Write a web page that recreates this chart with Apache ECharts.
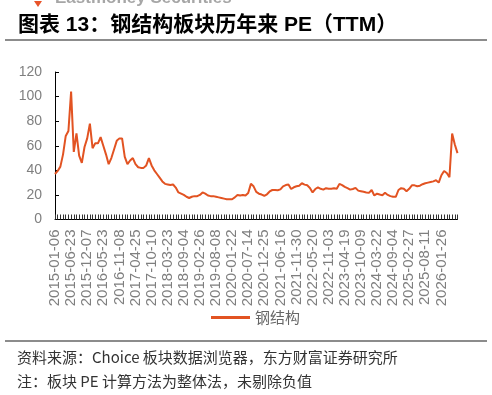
<!DOCTYPE html>
<html>
<head>
<meta charset="utf-8">
<script src="https://cdn.jsdelivr.net/npm/echarts@6/dist/echarts.min.js"></script>
<style>
  body { margin: 0; background: #ffffff; }
  #chart { width: 492px; height: 395px; }
</style>
</head>
<body>
<div id="chart"></div>
<script>
// x轴刻度标签（每6个数据点显示一个）
var tickLabels = [
  '2015-01-06', '2015-06-23', '2015-12-07', '2016-05-23', '2016-11-08',
  '2017-04-25', '2017-10-10', '2018-03-23', '2018-09-04', '2019-02-26',
  '2019-08-08', '2020-01-22', '2020-07-14', '2020-12-25', '2021-06-16',
  '2021-11-30', '2022-05-20', '2022-11-03', '2023-04-19', '2023-10-09',
  '2024-03-22', '2024-09-04', '2025-02-27', '2025-08-11', '2026-01-26'
]
var labelStep = 6

// 钢结构 PE(TTM)
var peValues = [
  37, 39.5, 43, 53, 68, 72,
  104, 55, 70, 52, 46, 59,
  66, 78, 58, 62, 62, 67,
  60, 53, 45, 50, 57, 64,
  66, 66, 51, 45, 48, 50,
  45, 42.5, 42, 42, 44, 50,
  44, 40, 37, 34, 31, 29,
  28.5, 28, 28.5, 26, 22, 21,
  20, 18.5, 17.5, 18.5, 19, 19,
  20, 22, 21, 19.5, 19, 19,
  18.5, 18, 17.5, 17, 16.5, 16.5,
  16.5, 18, 20, 19.5, 20, 19.5,
  21.5, 29, 27, 22.5, 21, 20.3,
  19.3, 20.5, 22.8, 24, 24, 23.8,
  24.5, 27, 28, 28.4, 24.8, 26.2,
  27, 27.5, 29.5, 28.4, 27.8, 25.7,
  22, 24.8, 26.2, 25, 24.3, 25.5,
  25, 25, 25.5, 25, 29, 28,
  26.5, 25.5, 24.3, 24.8, 25.7, 23.5,
  23, 22.5, 22, 21.7, 24, 19.5,
  21, 20.3, 19.7, 21.7, 20, 19,
  18.5, 18.5, 24, 25.5, 25, 23,
  25, 27.8, 27.8, 27, 27.5, 28.7,
  29.5, 30, 30.5, 31, 32, 30,
  36, 39.5, 37.8, 34.5, 70, 61,
  54
]

var categories = peValues.map(function (v, i) { return String(i) })

var lineColor = '#E25322'
var latinCjk = '"Liberation Sans", "Noto Sans CJK SC", sans-serif'

var myChart = echarts.init(document.getElementById('chart'))
var option = {
  backgroundColor: '#ffffff',
  animation: false,
  title: {
    text: '图表 13：钢结构板块历年来 PE（TTM）',
    left: 18,
    top: 15,
    padding: 0,
    textStyle: {
      fontFamily: latinCjk,
      fontSize: 21,
      fontWeight: 'bold',
      color: '#000000'
    }
  },
  graphic: [
    // 顶部被裁掉的logo
    {
      type: 'polygon',
      shape: { points: [[34, 1], [42, 1], [38, 7]] },
      style: { fill: '#E8542A' }
    },
    {
      type: 'text',
      style: {
        text: 'Eastmoney Securities',
        x: 55,
        y: 7,
        textAlign: 'left',
        textVerticalAlign: 'bottom',
        verticalAlign: 'bottom',
        font: 'bold 17px "Liberation Sans"',
        fill: '#a6a6a6'
      }
    },
    // 分隔线
    {
      type: 'line',
      shape: { x1: 5, y1: 40, x2: 487, y2: 40 },
      style: { stroke: '#8c8c8c', lineWidth: 2 }
    },
    {
      type: 'line',
      shape: { x1: 5, y1: 341, x2: 487, y2: 341 },
      style: { stroke: '#8c8c8c', lineWidth: 2 }
    },
    // 注释
    {
      type: 'text',
      style: {
        text: '资料来源：Choice 板块数据浏览器，东方财富证券研究所',
        x: 17,
        y: 357,
        textVerticalAlign: 'middle',
        verticalAlign: 'middle',
        font: '15px "Noto Sans CJK SC"',
        fill: '#333333'
      }
    },
    {
      type: 'text',
      style: {
        text: '注：板块 PE 计算方法为整体法，未剔除负值',
        x: 17,
        y: 381,
        textVerticalAlign: 'middle',
        verticalAlign: 'middle',
        font: '15px "Noto Sans CJK SC"',
        fill: '#333333'
      }
    }
  ],
  legend: {
    left: 211,
    top: 310,
    padding: 0,
    icon: 'rect',
    itemWidth: 39,
    itemHeight: 3,
    itemGap: 10,
    textStyle: {
      fontFamily: '"Noto Sans CJK SC"',
      fontSize: 15,
      color: '#666666'
    },
    data: ['钢结构']
  },
  grid: {
    left: 55,
    right: 34.5,
    top: 72,
    bottom: 175.5,
    containLabel: false
  },
  xAxis: {
    type: 'category',
    boundaryGap: false,
    data: categories,
    axisLine: { lineStyle: { color: '#000000', width: 1 } },
    axisTick: {
      inside: true,
      interval: 0,
      length: 5,
      lineStyle: { color: '#333333', width: 1 }
    },
    axisLabel: {
      interval: labelStep - 1,
      rotate: 90,
      margin: 10,
      fontFamily: '"Liberation Sans"',
      fontSize: 15,
      color: '#7f7f7f',
      formatter: function (v, idx) {
        return idx % labelStep === 0 ? tickLabels[idx / labelStep] : ''
      }
    },
    splitLine: { show: false }
  },
  yAxis: {
    type: 'value',
    min: 0,
    max: 120,
    interval: 20,
    axisLine: { show: true, lineStyle: { color: '#000000', width: 1 } },
    axisTick: { show: true, inside: true, length: 4, lineStyle: { color: '#000000' } },
    axisLabel: {
      margin: 13,
      fontFamily: '"Liberation Sans"',
      fontSize: 14,
      color: '#7f7f7f'
    },
    splitLine: { show: false }
  },
  series: [
    {
      name: '钢结构',
      type: 'line',
      symbol: 'none',
      smooth: false,
      itemStyle: { color: lineColor },
      lineStyle: { color: lineColor, width: 2 },
      data: peValues
    }
  ]
}
myChart.setOption(option)
</script>
</body>
</html>
